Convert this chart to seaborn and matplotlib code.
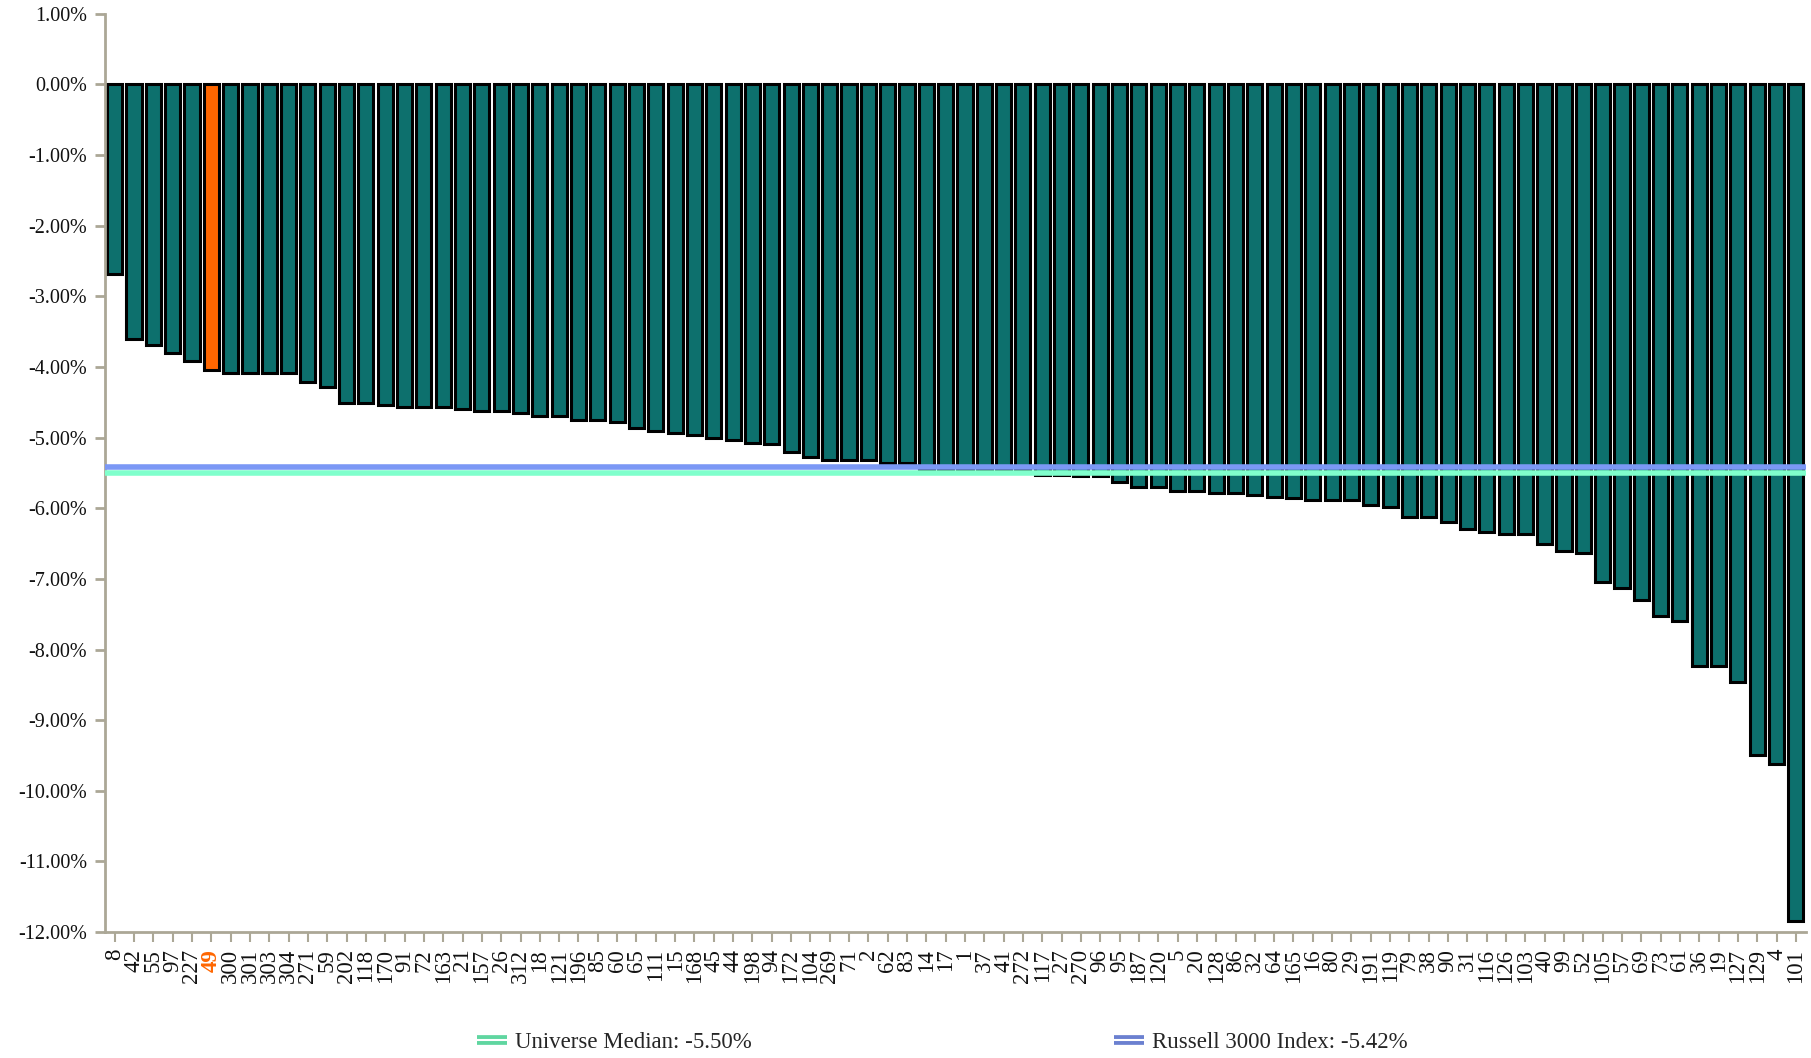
import matplotlib
matplotlib.use("Agg")
import matplotlib.pyplot as plt
import seaborn as sns
import pandas as pd
from matplotlib.lines import Line2D
from matplotlib.legend_handler import HandlerTuple
from matplotlib.ticker import FuncFormatter, MultipleLocator

labels = ["8", "42", "55", "97", "227", "49", "300", "301", "303", "304", "271", "59",
          "202", "118", "170", "91", "72", "163", "21", "157", "26", "312", "18", "121",
          "196", "85", "60", "65", "111", "15", "168", "45", "44", "198", "94", "172",
          "104", "269", "71", "2", "62", "83", "14", "17", "1", "37", "41", "272",
          "117", "27", "270", "96", "95", "187", "120", "5", "20", "128", "86", "32",
          "64", "165", "16", "80", "29", "191", "119", "79", "38", "90", "31", "116",
          "126", "103", "40", "99", "52", "105", "57", "69", "73", "61", "36", "19",
          "127", "129", "4", "101"]
values = [-2.68, -3.61, -3.69, -3.80, -3.92, -4.05, -4.08, -4.08, -4.08, -4.08, -4.21, -4.28,
          -4.51, -4.51, -4.54, -4.57, -4.57, -4.57, -4.59, -4.62, -4.62, -4.65, -4.70, -4.70,
          -4.75, -4.75, -4.78, -4.87, -4.90, -4.93, -4.96, -5.00, -5.04, -5.08, -5.09, -5.21,
          -5.27, -5.31, -5.31, -5.32, -5.36, -5.36, -5.45, -5.45, -5.45, -5.46, -5.46, -5.46,
          -5.53, -5.53, -5.55, -5.55, -5.63, -5.70, -5.70, -5.75, -5.75, -5.78, -5.78, -5.81,
          -5.84, -5.86, -5.89, -5.89, -5.89, -5.96, -5.98, -6.12, -6.12, -6.20, -6.29, -6.33,
          -6.37, -6.37, -6.51, -6.60, -6.63, -7.05, -7.13, -7.30, -7.53, -7.59, -8.24, -8.24,
          -8.46, -9.50, -9.62, -11.84]
highlight = "49"
universe_median = -5.50
russell_3000 = -5.42

TEAL = "#0d706d"
ORANGE = "#ff6600"
GREEN = "#80ffcc"
GREEN_LEG = "#5fd6a0"
BLUE = "#7b98f5"
BLUE_LEG = "#6b80d0"
SPINE = "#aba796"

sns.set_theme(style="white")
plt.rcParams["font.family"] = ["Liberation Serif", "DejaVu Serif"]

df = pd.DataFrame({"label": labels, "value": values})
palette = {l: (ORANGE if l == highlight else TEAL) for l in labels}

fig = plt.figure(figsize=(18.11, 10.58), dpi=100)
ax = fig.add_axes([0.058, 0.119, 0.939, 0.868])

sns.barplot(data=df, x="label", y="value", hue="label", palette=palette,
            order=labels, hue_order=labels, legend=False, width=0.78,
            edgecolor="black", linewidth=2.2, saturation=1, ax=ax)

ax.axhline(universe_median, color=GREEN, lw=4, zorder=5)
ax.axhline(russell_3000, color=BLUE, lw=4, zorder=5)

ax.set_xlim(-0.5, len(labels) - 0.5)
ax.set_ylim(-12, 1)
ax.yaxis.set_major_locator(MultipleLocator(1))
ax.yaxis.set_major_formatter(FuncFormatter(lambda v, p: f"{v:.2f}%"))
ax.set_xlabel("")
ax.set_ylabel("")

for s in ["top", "right"]:
    ax.spines[s].set_visible(False)
for s in ["left", "bottom"]:
    ax.spines[s].set_color(SPINE)
    ax.spines[s].set_linewidth(2)

ax.tick_params(axis="y", which="major", left=True, length=7, width=2, color=SPINE,
               labelsize=14.5, pad=6, labelcolor="#111111")
ax.tick_params(axis="x", which="major", bottom=True, length=7, width=1.5, color=SPINE,
               labelsize=16.5, pad=5, labelrotation=90, labelcolor="#111111")
for t in ax.get_xticklabels():
    if t.get_text() == highlight:
        t.set_color(ORANGE)
        t.set_fontweight("bold")

h1 = (Line2D([], [], color=GREEN_LEG, lw=7, solid_capstyle="butt"),
      Line2D([], [], color="white", lw=1.5, solid_capstyle="butt"))
h2 = (Line2D([], [], color=BLUE_LEG, lw=7, solid_capstyle="butt"),
      Line2D([], [], color="white", lw=1.5, solid_capstyle="butt"))
fig.legend([h1], [f"Universe Median: {universe_median:.2f}%"],
           handler_map={tuple: HandlerTuple(ndivide=1, pad=0)},
           loc="center left", bbox_to_anchor=(0.252, 0.015), frameon=False,
           fontsize=16.5, handlelength=1.3, handletextpad=0.35)
fig.legend([h2], [f"Russell 3000 Index: {russell_3000:.2f}%"],
           handler_map={tuple: HandlerTuple(ndivide=1, pad=0)},
           loc="center left", bbox_to_anchor=(0.604, 0.015), frameon=False,
           fontsize=16.5, handlelength=1.3, handletextpad=0.35)

fig.savefig("out.png", dpi=100)
